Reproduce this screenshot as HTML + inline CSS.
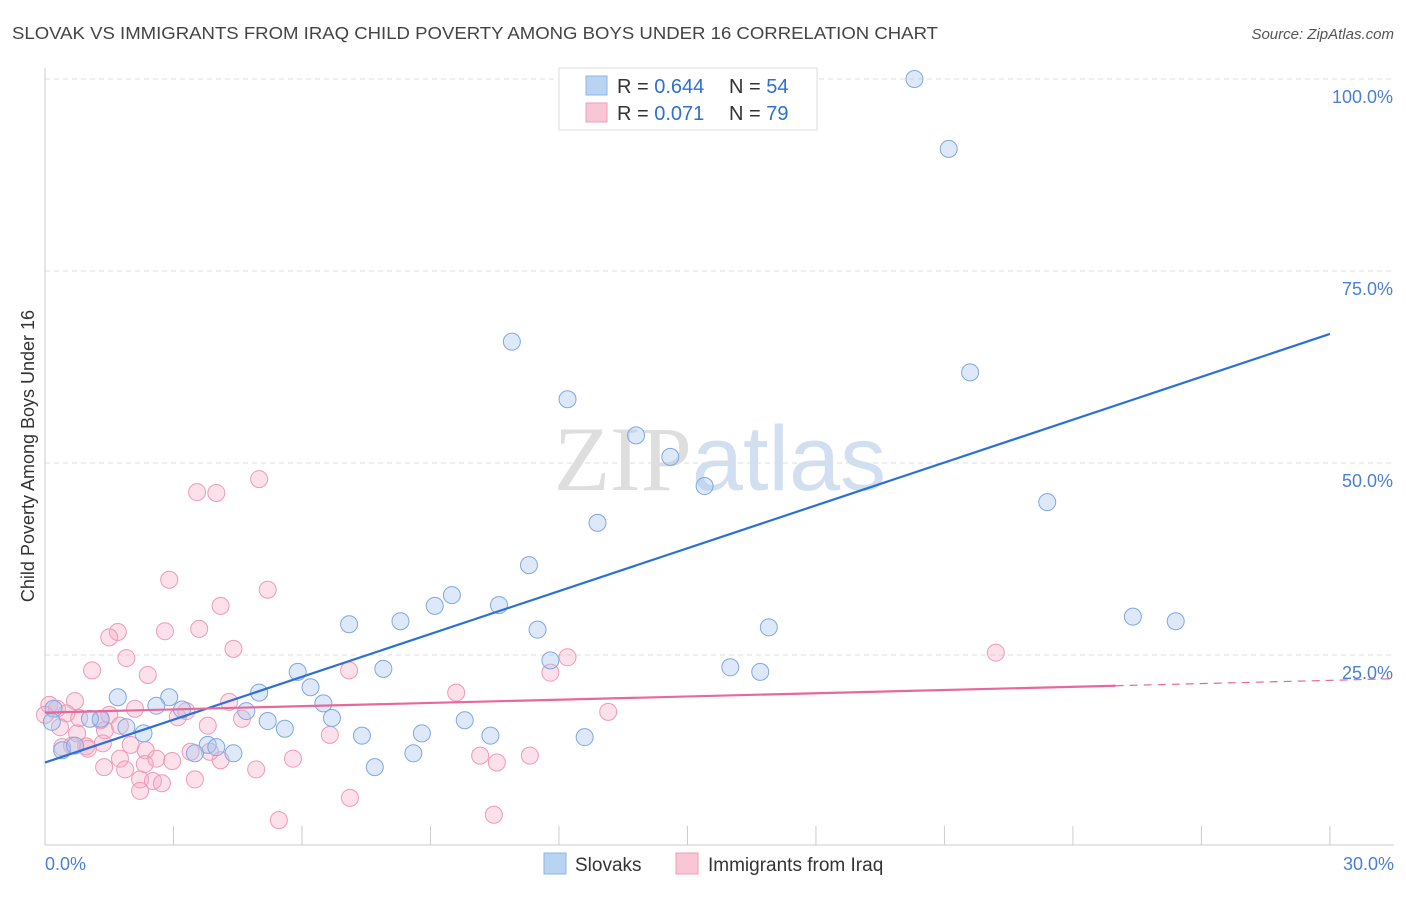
<!DOCTYPE html>
<html><head><meta charset="utf-8"><style>
body{margin:0;background:#fff;font-family:"Liberation Sans",sans-serif;}
svg text{font-family:"Liberation Sans",sans-serif;}
</style></head><body>
<svg id="chart" width="1406" height="892" xmlns="http://www.w3.org/2000/svg">
<text x="12" y="39" font-size="17.5" fill="#444" textLength="926" lengthAdjust="spacingAndGlyphs">SLOVAK VS IMMIGRANTS FROM IRAQ CHILD POVERTY AMONG BOYS UNDER 16 CORRELATION CHART</text>
<text x="1394" y="39" font-size="15" fill="#555" font-style="italic" text-anchor="end">Source: ZipAtlas.com</text>
<text x="720" y="490" font-size="92" text-anchor="middle" fill="#ddd" opacity="0.8"><tspan font-family="Liberation Serif" fill="#d6d6d6">ZIP</tspan><tspan fill="#c8d8ee">atlas</tspan></text>
<text transform="translate(34,456) rotate(-90)" font-size="18" fill="#333" text-anchor="middle">Child Poverty Among Boys Under 16</text>
<g id="grid"></g><g id="axes"></g><g id="pts"></g><g id="trend"></g>
<g>
<rect x="559" y="68" width="258" height="62" fill="#fff" stroke="#ddd"/>
<rect x="586" y="76" width="21" height="19" fill="#b9d3f3" stroke="#8fb5e6"/>
<rect x="586" y="103" width="21" height="19" fill="#f9c6d6" stroke="#ef9db8"/>
<text x="617" y="93" font-size="20" fill="#333">R = <tspan fill="#2f6fd0">0.644</tspan></text>
<text x="729" y="93" font-size="20" fill="#333">N = <tspan fill="#2f6fd0">54</tspan></text>
<text x="617" y="120" font-size="20" fill="#333">R = <tspan fill="#2f6fd0"> 0.071</tspan></text>
<text x="729" y="120" font-size="20" fill="#333">N = <tspan fill="#2f6fd0">79</tspan></text>
</g>
<g>
<rect x="544" y="853" width="22" height="21" fill="#b9d3f3" stroke="#8fb5e6"/>
<text x="575" y="871" font-size="19" fill="#333">Slovaks</text>
<rect x="676" y="853" width="22" height="21" fill="#f9c6d6" stroke="#ef9db8"/>
<text x="708" y="871" font-size="19" fill="#333">Immigrants from Iraq</text>
</g>
</svg>
<script>
const yTicks=[25,50,75,100];
const yTickLabels=["25.0%","50.0%","75.0%","100.0%"];
const xTickLabels=["0.0%","30.0%"];
const slovakX=[20.3,21.1,10.9,12.2,21.6,13.8,14.6,15.4,23.4,12.9,11.3,9.5,9.1,10.6,7.1,8.3,11.5,25.4,26.4,16.9,11.8,16.0,16.7,7.9,5.9,6.2,5.0,6.5,1.7,2.9,2.6,3.2,4.7,6.7,9.8,5.2,5.6,1.9,2.3,1.3,1.05,0.2,0.16,0.4,0.7,7.4,8.8,10.4,12.6,3.8,4.0,3.5,4.4,8.6,7.7];
const slovakY=[100,90.9,65.8,58.3,61.8,53.6,50.8,47.0,44.9,42.2,36.7,32.8,31.4,31.5,29.0,29.4,28.3,30.0,29.4,28.6,24.3,23.4,22.8,23.2,22.8,20.8,20.1,18.7,19.5,19.5,18.4,17.9,17.7,16.8,16.5,16.4,15.4,15.6,14.8,16.7,16.7,18.0,16.3,12.6,13.2,14.5,14.8,14.5,14.3,13.3,13.0,12.2,12.2,12.2,10.4];
const iraqX=[5.0,3.55,4.0,2.9,5.2,4.1,1.7,1.5,2.8,3.6,1.9,4.4,1.1,2.4,7.1,12.2,11.8,22.2,9.6,0.7,0.1,0.28,0.0,0.5,0.8,1.3,1.5,2.1,3.1,3.3,3.8,4.3,4.6,1.4,1.75,0.35,0.96,1.35,0.75,2.0,2.35,3.4,2.33,2.6,1.75,1.87,1.38,4.1,3.85,4.93,5.79,6.65,2.22,2.52,2.73,3.5,2.22,7.12,5.46,10.48,10.16,10.55,11.32,13.15,0.63,1.0,2.97,0.4];
const iraqY=[47.9,46.2,46.1,34.8,33.5,31.4,28.0,27.3,28.1,28.4,24.6,25.8,23.0,22.4,23.0,24.7,22.7,25.3,20.1,19.0,18.5,18.0,17.2,17.4,16.8,16.5,17.2,18.0,16.9,17.7,15.8,18.9,16.7,15.2,15.8,15.6,13.1,13.5,14.8,13.3,12.6,12.4,10.8,11.5,11.5,10.1,10.4,11.3,12.4,10.1,11.5,14.6,8.8,8.6,8.3,8.8,7.3,6.4,3.5,4.2,11.9,11.0,11.9,17.6,13.2,12.8,11.2,13.0];
const slovakTrend=[0,11.0,30,66.8];
const iraqTrend=[0,17.5,25,21.0,32,21.9];
const NS="http://www.w3.org/2000/svg";
const X=v=>45+v*42.83, Y=v=>847-v*7.68;
function mk(t,a,p){const e=document.createElementNS(NS,t);for(const k in a)e.setAttribute(k,a[k]);document.getElementById(p).appendChild(e);return e;}
yTicks.forEach((t,i)=>{
 const g=mk('line',{x1:45,x2:1394,y1:Y(t),y2:Y(t),stroke:'#ddd','stroke-dasharray':'5,4'},'grid');
 
 
 const l=mk('text',{x:1393,y:Y(t)+24,'font-size':18,fill:'#4a7fd4','text-anchor':'end'},'grid');
 l.textContent=yTickLabels[i];
 
 
});
mk('line',{x1:45,x2:45,y1:68,y2:845,stroke:'#ccc'},'axes');
mk('line',{x1:45,x2:1394,y1:845,y2:845,stroke:'#ccc'},'axes');
for(let i=0;i<=10;i++){mk('line',{x1:X(i*3),x2:X(i*3),y1:826,y2:845,stroke:'#ccc'},'axes');}
[[0,45,'start'],[30,1394,'end']].forEach((d,i)=>{
 const t=mk('text',{x:d[1],y:870,'font-size':18,fill:'#4a7fd4','text-anchor':d[2]},'axes');
 t.textContent=xTickLabels[i];
 
 
});
iraqX.forEach((x,i)=>{
 const c=mk('circle',{cx:X(x),cy:Y(iraqY[i]),r:8.5,fill:'rgba(246,170,196,0.35)',stroke:'#ee9ab6','stroke-width':1},'pts');
 
 
});
slovakX.forEach((x,i)=>{
 const c=mk('circle',{cx:X(x),cy:Y(slovakY[i]),r:8.5,fill:'rgba(170,200,240,0.4)',stroke:'#7fa8e0','stroke-width':1},'pts');
 
 
});
const s=mk('line',{x1:X(slovakTrend[0]),y1:Y(slovakTrend[1]),x2:X(slovakTrend[2]),y2:Y(slovakTrend[3]),stroke:'#2d6fd6','stroke-width':2.2},'trend');


const p=mk('line',{x1:X(iraqTrend[0]),y1:Y(iraqTrend[1]),x2:X(iraqTrend[2]),y2:Y(iraqTrend[3]),stroke:'#e8689a','stroke-width':2.2},'trend');


const slope=(iraqTrend[3]-iraqTrend[1])/(iraqTrend[2]-iraqTrend[0]);
const pd=mk('line',{x1:X(iraqTrend[2]),y1:Y(iraqTrend[3]),x2:1390,y2:Y(iraqTrend[1]+slope*((1390-45)/42.83)),stroke:'#e8689a','stroke-width':1.2,'stroke-dasharray':'8,6'},'trend');


</script>
</body></html>
